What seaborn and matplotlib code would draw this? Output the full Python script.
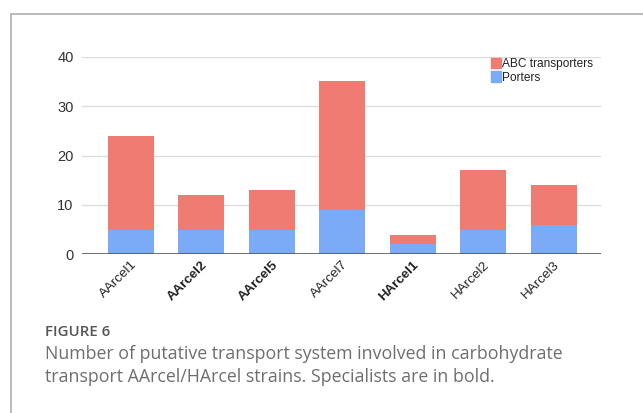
import matplotlib
matplotlib.use("Agg")
import matplotlib.pyplot as plt
import seaborn as sns
import pandas as pd
from matplotlib.patches import Patch
from matplotlib.lines import Line2D

strains = ["AArcel1", "AArcel2", "AArcel5", "AArcel7", "HArcel1", "HArcel2", "HArcel3"]
specialist = [False, True, True, False, True, False, False]
porters = [5, 5, 5, 9, 2, 5, 6]
abc = [19, 7, 8, 26, 2, 12, 8]
yticks = [0, 10, 20, 30, 40]

totals = [p + a for p, a in zip(porters, abc)]
df = pd.DataFrame({"strain": strains, "porters": porters, "total": totals})

sns.set_theme(style="white")
plt.rcParams["font.family"] = ["Liberation Sans", "DejaVu Sans"]

W, H = 643, 413
fig = plt.figure(figsize=(W / 100, H / 100), dpi=100)

# outer frame (left and top border)
fig.add_artist(Line2D([10.5 / W, 10.5 / W], [0, 1 - 14 / H], color="#b5b5b5", lw=1.3, transform=fig.transFigure))
fig.add_artist(Line2D([10.5 / W, 1], [1 - 14 / H, 1 - 14 / H], color="#b5b5b5", lw=1.3, transform=fig.transFigure))

left, right = 82 / W, 601 / W
bottom, top = 1 - 254.3 / H, 1 - 56.7 / H
ax = fig.add_axes([left, bottom, right - left, top - bottom])

red = "#f07b72"
blue = "#7baaf7"
sns.barplot(data=df, x="strain", y="total", color=red, width=0.65, ax=ax, saturation=1,
            zorder=2, edgecolor="none", linewidth=0)
sns.barplot(data=df, x="strain", y="porters", color=blue, width=0.65, ax=ax, saturation=1,
            zorder=3, edgecolor="none", linewidth=0)

ax.set_xlim(-0.69, 6.67)
ax.set_ylim(0, 40)
ax.set_yticks(yticks)
ax.set_yticklabels([str(v) for v in yticks], fontsize=10.5, color="#333333")
ax.tick_params(axis="y", length=0, pad=6)
ax.tick_params(axis="x", length=0, pad=3)
for v in yticks[1:]:
    ax.axhline(v, color="#dcdcdc", lw=1, zorder=1)
ax.axhline(0, color="#555555", lw=1.2, zorder=4)
for s in ax.spines.values():
    s.set_visible(False)
ax.set_xlabel("")
ax.set_ylabel("")
ax.set_xticks(range(len(strains)))
ax.set_xticklabels(strains, rotation=45, ha="right", rotation_mode="anchor", fontsize=9.6, color="#222222")
for lbl, sp in zip(ax.get_xticklabels(), specialist):
    if sp:
        lbl.set_fontweight("bold")
ax.set_facecolor("white")

handles = [Patch(color=red, label="ABC transporters"), Patch(color=blue, label="Porters")]
leg = ax.legend(handles=handles, loc="upper left", bbox_to_anchor=(0.788, 0.995), frameon=False,
                fontsize=8.6, handlelength=0.8, handleheight=1.0, handletextpad=0.15,
                labelspacing=0.1, borderaxespad=0.0, borderpad=0.0)
for t in leg.get_texts():
    t.set_color("#222222")

cap_font = ["Open Sans", "DejaVu Sans"]
fig.text(45 / W, 1 - 332 / H, "FIGURE 6", fontsize=10.8, color="#555555", fontweight="semibold",
         family=cap_font, va="center", ha="left")
fig.text(45 / W, 1 - 354 / H, "Number of putative transport system involved in carbohydrate",
         fontsize=12.75, color="#6e6e6e", family=cap_font, va="center", ha="left")
fig.text(45 / W, 1 - 377 / H, "transport AArcel/HArcel strains. Specialists are in bold.",
         fontsize=12.75, color="#6e6e6e", family=cap_font, va="center", ha="left")

fig.savefig("out.png", dpi=100)
